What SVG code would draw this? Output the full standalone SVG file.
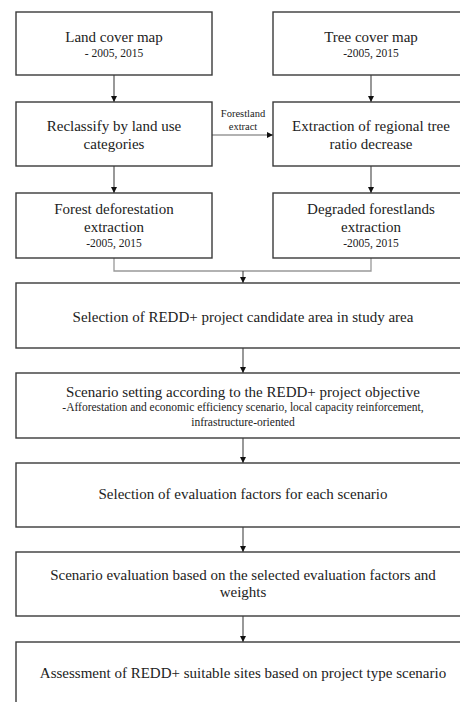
<svg xmlns="http://www.w3.org/2000/svg" width="460" height="702" viewBox="0 0 460 702">
<defs>
<marker id="ah" markerWidth="6" markerHeight="6" refX="6" refY="3" orient="auto" markerUnits="userSpaceOnUse">
<path d="M0,0 L6,3 L0,6 z" fill="#111"/>
</marker>
<style>
.box{fill:#fff;stroke:#3a3a3a;stroke-width:1.4}
.t{font-family:"Liberation Serif","Times New Roman",serif;font-size:15px;fill:#222;text-anchor:middle}
.s{font-family:"Liberation Serif","Times New Roman",serif;font-size:11.5px;fill:#222;text-anchor:middle}
.l{font-family:"Liberation Serif","Times New Roman",serif;font-size:10.5px;fill:#222;text-anchor:middle}
.c{fill:none;stroke:#444;stroke-width:1.1}
.g{fill:none;stroke:#999;stroke-width:1.3}
</style>
</defs>
<rect width="460" height="702" fill="#fff"/>
<g id="connectors">
<line class="c" x1="114" y1="75" x2="114" y2="102" marker-end="url(#ah)"/>
<line class="c" x1="371" y1="75" x2="371" y2="102" marker-end="url(#ah)"/>
<line class="c" x1="114" y1="166" x2="114" y2="193" marker-end="url(#ah)"/>
<line class="c" x1="371" y1="166" x2="371" y2="193" marker-end="url(#ah)"/>
<line class="g" x1="212" y1="135" x2="273" y2="135" marker-end="url(#ah)"/>
<text class="l" x="243" y="117">Forestland</text>
<text class="l" x="243" y="130">extract</text>
<polyline class="g" points="114,258 114,271 371,271 371,258"/>
<line class="c" x1="243" y1="271" x2="243" y2="283" marker-end="url(#ah)"/>
<line class="c" x1="243" y1="348" x2="243" y2="373" marker-end="url(#ah)"/>
<line class="c" x1="243" y1="438" x2="243" y2="463" marker-end="url(#ah)"/>
<line class="c" x1="243" y1="527" x2="243" y2="552" marker-end="url(#ah)"/>
<line class="c" x1="243" y1="616" x2="243" y2="642" marker-end="url(#ah)"/>
</g>
<g id="land-cover">
<rect class="box" x="16" y="12" width="196" height="63"/>
<text class="t" x="114" y="42">Land cover map</text>
<text class="s" x="114" y="57">- 2005, 2015</text>
</g>
<g id="tree-cover">
<rect class="box" x="273" y="12" width="197" height="63"/>
<text class="t" x="371" y="42">Tree cover map</text>
<text class="s" x="371" y="57">-2005, 2015</text>
</g>
<g id="reclassify">
<rect class="box" x="16" y="102" width="196" height="64"/>
<text class="t" x="114" y="131">Reclassify by land use</text>
<text class="t" x="114" y="149">categories</text>
</g>
<g id="tree-ratio">
<rect class="box" x="273" y="102" width="197" height="64"/>
<text class="t" x="371" y="131">Extraction of regional tree</text>
<text class="t" x="371" y="149">ratio decrease</text>
</g>
<g id="deforestation">
<rect class="box" x="16" y="193" width="196" height="65"/>
<text class="t" x="114" y="214">Forest deforestation</text>
<text class="t" x="114" y="232">extraction</text>
<text class="s" x="114" y="247">-2005, 2015</text>
</g>
<g id="degraded">
<rect class="box" x="273" y="193" width="197" height="65"/>
<text class="t" x="371" y="214">Degraded forestlands</text>
<text class="t" x="371" y="232">extraction</text>
<text class="s" x="371" y="247">-2005, 2015</text>
</g>
<g id="candidate">
<rect class="box" x="16" y="283" width="454" height="65"/>
<text class="t" x="243" y="322">Selection of REDD+ project candidate area in study area</text>
</g>
<g id="scenario-setting">
<rect class="box" x="16" y="373" width="454" height="65"/>
<text class="t" x="243" y="397">Scenario setting according to the REDD+ project objective</text>
<text class="s" x="243" y="411">-Afforestation and economic efficiency scenario, local capacity reinforcement,</text>
<text class="s" x="243" y="426">infrastructure-oriented</text>
</g>
<g id="factors">
<rect class="box" x="16" y="463" width="454" height="64"/>
<text class="t" x="243" y="499">Selection of evaluation factors for each scenario</text>
</g>
<g id="evaluation">
<rect class="box" x="16" y="552" width="454" height="64"/>
<text class="t" x="243" y="580">Scenario evaluation based on the selected evaluation factors and</text>
<text class="t" x="243" y="597">weights</text>
</g>
<g id="assessment">
<rect class="box" x="16" y="642" width="454" height="70"/>
<text class="t" x="243" y="678">Assessment of REDD+ suitable sites based on project type scenario</text>
</g>
</svg>
